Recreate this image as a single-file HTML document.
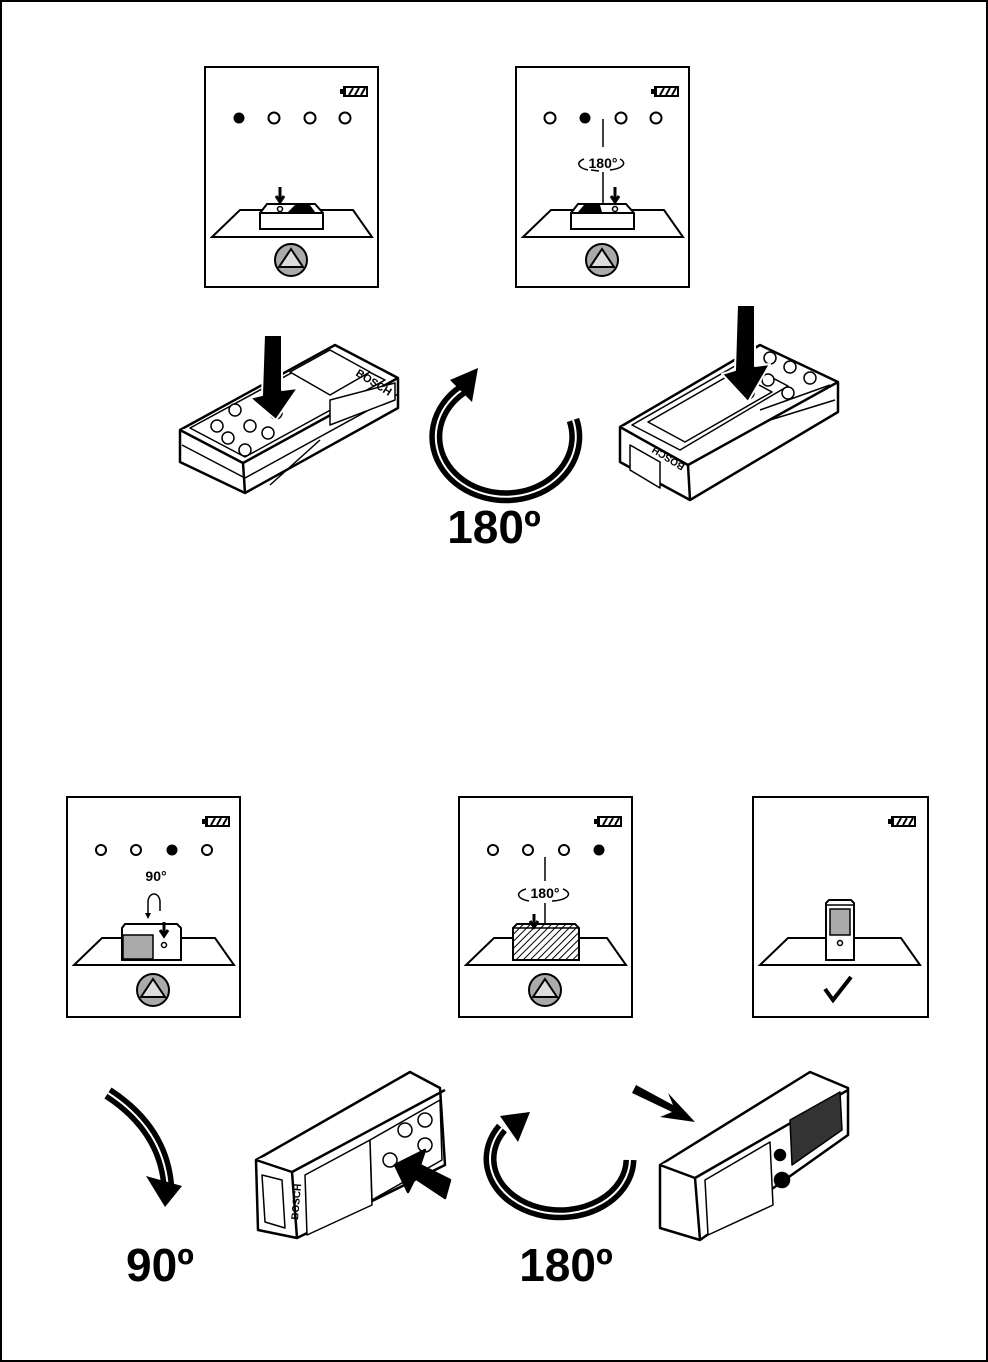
<!DOCTYPE html>
<html><head><meta charset="utf-8"><style>
html,body{margin:0;padding:0;background:#fff}
svg{display:block}
text{font-family:"Liberation Sans",sans-serif}
</style></head><body>
<svg width="988" height="1362" viewBox="0 0 988 1362" xmlns="http://www.w3.org/2000/svg">
<defs>
<pattern id="hatch" width="5" height="5" patternUnits="userSpaceOnUse" patternTransform="rotate(45)">
<rect width="5" height="5" fill="#fff"/><line x1="0" y1="0" x2="0" y2="5" stroke="#000" stroke-width="2"/>
</pattern>
<g id="batt">
<rect x="138" y="19" width="25" height="11" fill="#000"/>
<rect x="135" y="22" width="3" height="5" fill="#000"/>
<rect x="141" y="21" width="20" height="7" fill="#fff"/>
<path d="M144 28 L148 21 M150 28 L154 21 M156 28 L160 21" stroke="#000" stroke-width="2"/>
</g>
<g id="plat">
<path d="M35 143 L148 143 L167 170 L7 170 Z" fill="#fff" stroke="#000" stroke-width="2"/>
</g>
<g id="btn">
<circle cx="86" cy="193" r="16" fill="#aaa" stroke="#000" stroke-width="2"/>
<path d="M86 182 L98 200 L74 200 Z" fill="#ddd" stroke="#000" stroke-width="2"/>
</g>
</defs>
<rect x="1" y="1" width="986" height="1360" fill="#fff" stroke="#000" stroke-width="2"/>

<!-- Panel 1 -->
<g transform="translate(205,67)">
<rect x="0" y="0" width="173" height="220" fill="#fff" stroke="#000" stroke-width="2"/>
<use href="#batt"/>
<circle cx="34" cy="51" r="5.5" fill="#000"/>
<circle cx="69" cy="51" r="5.5" fill="#fff" stroke="#000" stroke-width="2"/>
<circle cx="105" cy="51" r="5.5" fill="#fff" stroke="#000" stroke-width="2"/>
<circle cx="140" cy="51" r="5.5" fill="#fff" stroke="#000" stroke-width="2"/>
<use href="#plat"/>
<path d="M55 162 L55 146 L62 137 L110 137 L118 146 L118 162 Z" fill="#fff" stroke="#000" stroke-width="2"/>
<path d="M55 146 L118 146" stroke="#000" stroke-width="2"/>
<path d="M83 145 L90 138 L105 138 L110 145 Z" fill="#000"/>
<circle cx="75" cy="142" r="2.5" fill="#fff" stroke="#000" stroke-width="1.5"/>
<path d="M75 120 L75 132 M71 129 L75 135 L79 129" stroke="#000" stroke-width="3" fill="none"/>
<use href="#btn"/>
</g>

<!-- Panel 2 -->
<g transform="translate(516,67)">
<rect x="0" y="0" width="173" height="220" fill="#fff" stroke="#000" stroke-width="2"/>
<use href="#batt"/>
<circle cx="34" cy="51" r="5.5" fill="#fff" stroke="#000" stroke-width="2"/>
<circle cx="69" cy="51" r="5.5" fill="#000"/>
<circle cx="105" cy="51" r="5.5" fill="#fff" stroke="#000" stroke-width="2"/>
<circle cx="140" cy="51" r="5.5" fill="#fff" stroke="#000" stroke-width="2"/>
<use href="#plat"/>
<path d="M55 162 L55 146 L62 137 L110 137 L118 146 L118 162 Z" fill="#fff" stroke="#000" stroke-width="2"/>
<path d="M55 146 L118 146" stroke="#000" stroke-width="2"/>
<path d="M62 145 L68 138 L84 138 L86 145 Z" fill="#000"/>
<circle cx="99" cy="142" r="2.5" fill="#fff" stroke="#000" stroke-width="1.5"/>
<path d="M99 120 L99 132 M95 129 L99 135 L103 129" stroke="#000" stroke-width="3" fill="none"/>
<path d="M87 52 L87 80 M87 105 L87 138" stroke="#000" stroke-width="1.5"/>
<path d="M72 103 A18 7 0 0 1 68 92 M104 92 A18 7 0 0 1 94 103" stroke="#000" stroke-width="1.5" fill="none"/>
<path d="M75 103 L83 104" stroke="#000" stroke-width="1.5"/>
<text x="87" y="101" font-size="14" font-weight="bold" text-anchor="middle">180°</text>
<use href="#btn"/>
</g>

<!-- Top left device -->
<g stroke="#000" stroke-width="2.5" fill="#fff" stroke-linejoin="round">
<path d="M180 430 L335 345 L398 378 L398 408 L245 493 L180 462 Z"/>
<path d="M180 430 L243 463 L398 378"/>
<path d="M243 463 L245 493"/>
<path d="M182 445 L245 478 L398 394" fill="none" stroke-width="1.5"/>
<path d="M190 428 L330 352 L385 380 L245 457 Z" fill="#fff" stroke-width="1.5"/>
<path d="M290 372 L330 350 L370 372 L330 395 Z" stroke-width="1.5"/>
<circle cx="217" cy="426" r="6" stroke-width="1.5"/><circle cx="235" cy="410" r="6" stroke-width="1.5"/>
<circle cx="228" cy="438" r="6" stroke-width="1.5"/><circle cx="250" cy="426" r="6" stroke-width="1.5"/>
<circle cx="245" cy="450" r="6" stroke-width="1.5"/><circle cx="268" cy="433" r="6" stroke-width="1.5"/>
<circle cx="276" cy="413" r="6" stroke-width="1.5"/>
<path d="M320 440 L270 485" stroke-width="1.5"/>
<path d="M330 400 L395 383 L395 400 L330 425Z" stroke-width="1.5"/>
<path d="M262 395 L264 335 L282 335 L282 390 L298 388 L276 420 L250 398 Z" fill="#000" stroke="#fff" stroke-width="2"/>
</g>
<text x="355" y="375" font-size="11" font-weight="bold" transform="rotate(32 355 375)">BOSCH</text>

<!-- Top rotate arrow -->
<path d="M573 420 A70 60 0 1 1 462 390" fill="none" stroke="#000" stroke-width="13"/>
<path d="M573 420 A70 60 0 1 1 462 390" fill="none" stroke="#fff" stroke-width="2"/>
<path d="M450 380 L478 368 L472 402 Z" fill="#000"/>

<!-- Top right device -->
<g stroke="#000" stroke-width="2.5" fill="#fff" stroke-linejoin="round">
<path d="M620 427 L760 345 L838 382 L838 412 L690 500 L620 462 Z"/>
<path d="M620 427 L688 465 L838 382"/>
<path d="M688 465 L690 500"/>
<path d="M632 425 L742 362 L788 386 L680 450 Z" stroke-width="1.5"/>
<path d="M648 422 L735 372 L772 392 L685 442 Z" stroke-width="1.5"/>
<path d="M630 445 L660 462 L660 488 L630 470 Z" stroke-width="1.5"/>
<circle cx="770" cy="358" r="6" stroke-width="1.5"/><circle cx="790" cy="367" r="6" stroke-width="1.5"/>
<circle cx="810" cy="378" r="6" stroke-width="1.5"/><circle cx="768" cy="380" r="6" stroke-width="1.5"/>
<circle cx="788" cy="393" r="6" stroke-width="1.5"/><circle cx="748" cy="393" r="6" stroke-width="1.5"/>
<path d="M760 410 L830 385 M770 420 L835 400" stroke-width="1.5"/>
<path d="M735 370 L737 305 L755 305 L755 366 L770 364 L748 402 L722 374 Z" fill="#000" stroke="#fff" stroke-width="2"/>
</g>
<text x="640" y="428" font-size="10" font-weight="bold" transform="rotate(212 668 440)">BOSCH</text>

<text x="494" y="543" font-size="46" font-weight="bold" text-anchor="middle">180º</text>

<!-- Panel 3 -->
<g transform="translate(67,797)">
<rect x="0" y="0" width="173" height="220" fill="#fff" stroke="#000" stroke-width="2"/>
<use href="#batt"/>
<circle cx="34" cy="53" r="5" fill="#fff" stroke="#000" stroke-width="2"/>
<circle cx="69" cy="53" r="5" fill="#fff" stroke="#000" stroke-width="2"/>
<circle cx="105" cy="53" r="5.5" fill="#000"/>
<circle cx="140" cy="53" r="5" fill="#fff" stroke="#000" stroke-width="2"/>
<text x="89" y="84" font-size="14" font-weight="bold" text-anchor="middle">90°</text>
<path d="M93 114 L93 105 A6 8 0 0 0 81 105 L81 118" stroke="#000" stroke-width="1.5" fill="none"/>
<path d="M78 116 L81 122 L84 116" fill="#000"/>
<use href="#plat" transform="translate(0,-2)"/>
<path d="M55 163 L55 131 L58 127 L110 127 L114 131 L114 163 Z" fill="#fff" stroke="#000" stroke-width="2"/>
<rect x="56" y="138" width="30" height="24" fill="#aaa" stroke="#000" stroke-width="1.5"/>
<circle cx="97" cy="148" r="2.5" fill="#fff" stroke="#000" stroke-width="1.5"/>
<path d="M97 125 L97 136 M93 133 L97 139 L101 133" stroke="#000" stroke-width="3" fill="none"/>
<use href="#btn"/>
</g>

<!-- Panel 4 -->
<g transform="translate(459,797)">
<rect x="0" y="0" width="173" height="220" fill="#fff" stroke="#000" stroke-width="2"/>
<use href="#batt"/>
<circle cx="34" cy="53" r="5" fill="#fff" stroke="#000" stroke-width="2"/>
<circle cx="69" cy="53" r="5" fill="#fff" stroke="#000" stroke-width="2"/>
<circle cx="105" cy="53" r="5" fill="#fff" stroke="#000" stroke-width="2"/>
<circle cx="140" cy="53" r="5.5" fill="#000"/>
<use href="#plat" transform="translate(0,-2)"/>
<path d="M54 163 L54 131 L58 127 L116 127 L120 131 L120 163 Z" fill="url(#hatch)" stroke="#000" stroke-width="2"/>
<path d="M54 131 L120 131" stroke="#000" stroke-width="1.5"/>
<path d="M75 117 L75 127 M71 124 L75 130 L79 124" stroke="#000" stroke-width="3" fill="none"/>
<path d="M86 60 L86 84 M86 106 L86 128" stroke="#000" stroke-width="1.5"/>
<path d="M70 104 A18 7 0 0 1 67 92 M104 92 A18 7 0 0 1 93 104" stroke="#000" stroke-width="1.5" fill="none"/>
<text x="86" y="101" font-size="14" font-weight="bold" text-anchor="middle">180°</text>
<use href="#btn"/>
</g>

<!-- Panel 5 -->
<g transform="translate(753,797)">
<rect x="0" y="0" width="175" height="220" fill="#fff" stroke="#000" stroke-width="2"/>
<use href="#batt"/>
<use href="#plat" transform="translate(0,-2)"/>
<path d="M73 163 L73 106 L76 103 L98 103 L101 106 L101 163 Z" fill="#fff" stroke="#000" stroke-width="2"/>
<path d="M73 108 L101 108" stroke="#000" stroke-width="1.5"/>
<rect x="77" y="112" width="20" height="26" fill="#aaa" stroke="#000" stroke-width="1.5"/>
<circle cx="87" cy="146" r="2.5" fill="#fff" stroke="#000" stroke-width="1.5"/>
<path d="M72 192 L80 203 L98 180" stroke="#000" stroke-width="4" fill="none"/>
</g>

<!-- 90 arrow -->
<path d="M108 1093 Q165 1130 168 1190" fill="none" stroke="#000" stroke-width="13"/>
<path d="M108 1093 Q165 1130 168 1190" fill="none" stroke="#fff" stroke-width="2"/>
<path d="M146 1176 L182 1186 L165 1207 Z" fill="#000"/>
<text x="160" y="1281" font-size="46" font-weight="bold" text-anchor="middle">90º</text>

<!-- Bottom left device -->
<g stroke="#000" stroke-width="2.5" fill="#fff" stroke-linejoin="round">
<path d="M256 1160 L410 1072 L440 1088 L445 1165 L297 1238 L258 1230 Z"/>
<path d="M256 1160 L292 1172 L445 1090"/>
<path d="M292 1172 L297 1238"/>
<path d="M262 1175 L282 1180 L285 1228 L265 1222 Z" stroke-width="1.5"/>
<path d="M305 1175 L370 1140 L372 1205 L307 1235 Z" stroke-width="1.5"/>
<path d="M370 1140 L440 1100 L442 1160 L372 1200 Z" stroke-width="1.5"/>
<circle cx="390" cy="1160" r="7" stroke-width="1.5"/><circle cx="405" cy="1130" r="7" stroke-width="1.5"/>
<circle cx="425" cy="1120" r="7" stroke-width="1.5"/><circle cx="425" cy="1145" r="7" stroke-width="1.5"/>
<path d="M395 1165 L425 1150 L420 1165 L450 1180 L445 1198 L415 1178 L408 1192 Z" fill="#000"/>
</g>
<text x="298" y="1220" font-size="10" font-weight="bold" transform="rotate(-85 298 1220)">BOSCH</text>

<!-- Bottom rotate arrow -->
<path d="M630 1160 A70 55 0 1 1 502 1128" fill="none" stroke="#000" stroke-width="13"/>
<path d="M630 1160 A70 55 0 1 1 502 1128" fill="none" stroke="#fff" stroke-width="2"/>
<path d="M500 1116 L530 1112 L518 1142 Z" fill="#000"/>
<text x="566" y="1281" font-size="46" font-weight="bold" text-anchor="middle">180º</text>

<!-- Bottom right device -->
<path d="M636 1085 L673 1105 L668 1093 L695 1122 L660 1117 L672 1112 L632 1093 Z" fill="#000"/>
<g stroke="#000" stroke-width="2.5" fill="#fff" stroke-linejoin="round">
<path d="M660 1165 L810 1072 L848 1088 L848 1135 L700 1240 L660 1228 Z"/>
<path d="M660 1165 L695 1178 L848 1090"/>
<path d="M695 1178 L700 1240"/>
<path d="M705 1180 L770 1142 L773 1205 L708 1235 Z" stroke-width="1.5"/>
<path d="M790 1120 L840 1092 L842 1130 L792 1165 Z" fill="#333" stroke-width="1.5"/>
<circle cx="782" cy="1180" r="7" fill="#000"/>
<circle cx="780" cy="1155" r="5" fill="#000"/>
</g>
</svg>
</body></html>
